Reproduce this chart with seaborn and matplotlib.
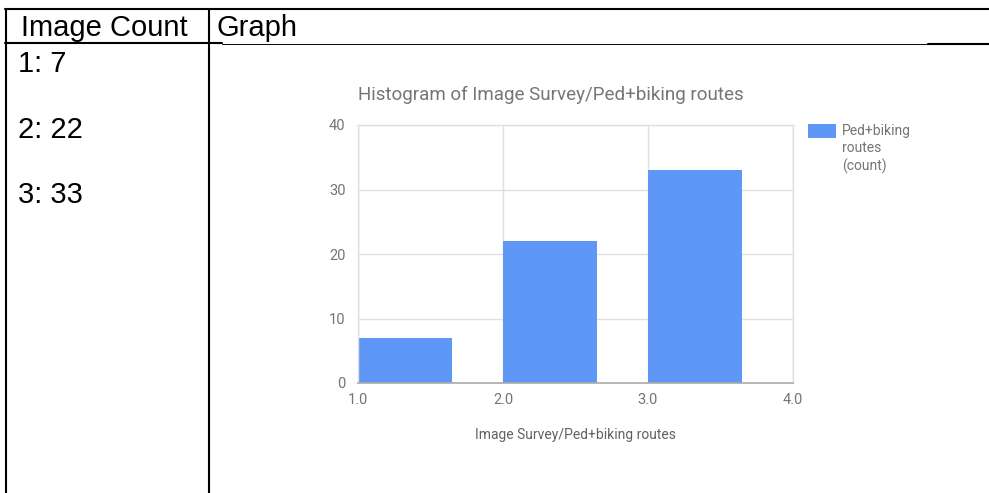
import matplotlib
matplotlib.use("Agg")
import matplotlib.pyplot as plt
import numpy as np
import seaborn as sns
from matplotlib.lines import Line2D
from matplotlib.patches import Rectangle

# data
bin_start = np.array([1.0, 2.0, 3.0])
counts = [7, 22, 33]
table_rows = ["1: 7", "2: 22", "3: 33"]
header = ["Image Count", "Graph"]
x_ticks = [1.0, 2.0, 3.0, 4.0]
y_ticks = [0, 10, 20, 30, 40]
title = "Histogram of Image Survey/Ped+biking routes"
x_label = "Image Survey/Ped+biking routes"
legend_label = "Ped+biking\nroutes\n(count)"
bar_color = "#5e97f6"

sns.set_theme(style="white")
plt.rcParams["font.family"] = ["Roboto", "DejaVu Sans"]

W, H = 989, 493
fig = plt.figure(figsize=(W / 100, H / 100), dpi=100)

# table frame drawn in pixel coords
over = fig.add_axes([0, 0, 1, 1])
over.set_xlim(0, W)
over.set_ylim(H, 0)
over.axis("off")
thick = 1.5
over.add_line(Line2D([5, W], [9, 9], color="black", lw=thick))
over.add_line(Line2D([5.5, 5.5], [9, H], color="black", lw=thick))
over.add_line(Line2D([208.5, 208.5], [9, H], color="black", lw=thick))
over.add_line(Line2D([5, 222], [43.3, 43.3], color="black", lw=thick))
over.add_line(Line2D([222, 928], [43.8, 43.8], color="#111111", lw=0.75))
over.add_line(Line2D([928, W], [44, 44], color="black", lw=thick))

tfont = dict(family="Liberation Sans", fontsize=21, color="black", va="baseline")
over.text(21, 36, header[0], **tfont)
over.text(216, 36, header[1], **tfont)
for i, row in enumerate(table_rows):
    over.text(18, [72, 138, 203][i], row, **tfont)

# chart
L, R, T, B = 358, 793, 125, 383
ax = fig.add_axes([L / W, 1 - B / H, (R - L) / W, (B - T) / H])
bar_w = 0.645
sns.barplot(x=bin_start + bar_w / 2, y=counts, native_scale=True, width=bar_w,
            color=bar_color, saturation=1, linewidth=0, ax=ax, zorder=2)
ax.set_xlim(1, 4)
ax.set_ylim(0, 40)
ax.set_xticks(x_ticks)
ax.set_xticklabels([f"{v:.1f}" for v in x_ticks])
ax.set_yticks(y_ticks)
ax.set_yticklabels([str(v) for v in y_ticks])
ax.grid(True, color="#e0e0e0", lw=1, zorder=0)
ax.set_axisbelow(True)
for s in ["top", "right", "left"]:
    ax.spines[s].set_visible(True)
    ax.spines[s].set_color("#e0e0e0")
    ax.spines[s].set_linewidth(1)
ax.spines["bottom"].set_color("#aaaaaa")
ax.spines["bottom"].set_linewidth(1.2)
ax.spines["bottom"].set_zorder(3)
ax.tick_params(axis="both", length=0, labelsize=10.5, colors="#757575")
ax.tick_params(axis="y", pad=9)
ax.tick_params(axis="x", pad=7)
ax.set_xlabel(x_label, fontsize=10, color="#616161", labelpad=15)
ax.set_ylabel("")

fig.text(L / W, 1 - 95 / H, title, fontsize=13.5, color="#757575", va="center", ha="left")

# legend
over.add_patch(Rectangle((808, 124), 28, 14, color=bar_color, lw=0))
over.text(842, 124, legend_label, fontsize=10, color="#757575", va="top", ha="left",
          linespacing=1.3)

fig.savefig("out.png", dpi=100)
